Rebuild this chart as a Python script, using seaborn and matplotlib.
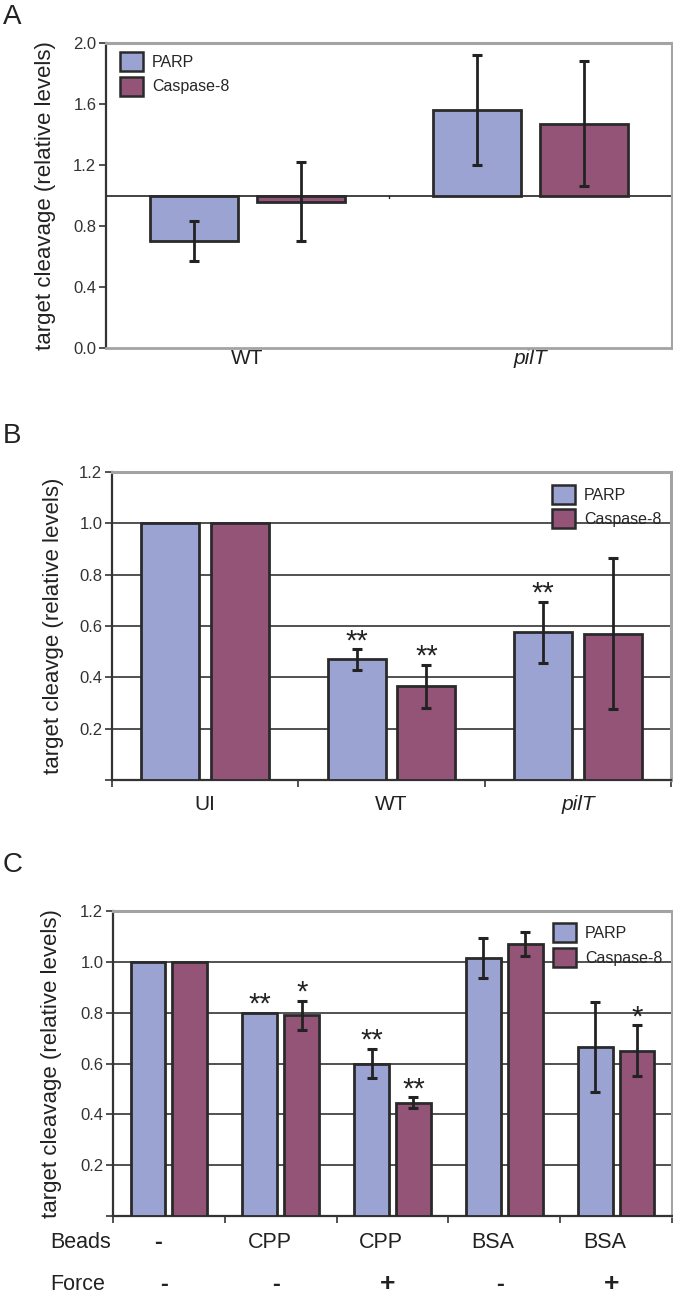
import numpy as np
import pandas as pd
import seaborn as sns
import matplotlib
matplotlib.use("Agg")
import matplotlib.pyplot as plt
from matplotlib.patches import Patch
from matplotlib.container import BarContainer
from matplotlib.transforms import blended_transform_factory

# panel A
a_groups = ["WT", "pilT"]
a_parp = [0.70, 1.56]
a_parp_err = [0.13, 0.36]
a_casp = [0.96, 1.47]
a_casp_err = [0.26, 0.41]

# panel B
b_groups = ["UI", "WT", "pilT"]
b_parp = [1.0, 0.47, 0.575]
b_parp_err = [0.0, 0.04, 0.12]
b_casp = [1.0, 0.365, 0.57]
b_casp_err = [0.0, 0.085, 0.295]
b_parp_sig = ["", "**", "**"]
b_casp_sig = ["", "**", ""]

# panel C
c_beads = ["-", "CPP", "CPP", "BSA", "BSA"]
c_force = ["-", "-", "+", "-", "+"]
c_parp = [1.0, 0.80, 0.60, 1.015, 0.665]
c_parp_err = [0.0, 0.0, 0.058, 0.077, 0.178]
c_casp = [1.0, 0.79, 0.445, 1.07, 0.65]
c_casp_err = [0.0, 0.057, 0.022, 0.047, 0.10]
c_parp_sig = ["", "**", "**", "", ""]
c_casp_sig = ["", "*", "**", "", "*"]

series = ["PARP", "Caspase-8"]
colors = {"PARP": "#9ba3d2", "Caspase-8": "#935477"}
EDGE = "#2a2a2a"
FRAME = "#a3a3a3"
INK = "#222222"

sns.set_theme(style="white")
plt.rcParams["font.family"] = ["Liberation Sans", "DejaVu Sans"]

fig = plt.figure(figsize=(6.73, 12.98), dpi=100)
W, H = 673, 1298


def px_axes(left, top, right, bottom):
    return fig.add_axes([left / W, 1 - bottom / H, (right - left) / W, (bottom - top) / H])


def draw_bars(ax, groups, parp, parp_err, casp, casp_err, parp_sig=None, casp_sig=None):
    df = pd.DataFrame({
        "group": list(groups) * 2,
        "series": ["PARP"] * len(groups) + ["Caspase-8"] * len(groups),
        "value": list(parp) + list(casp),
    })
    sns.barplot(data=df, x="group", y="value", hue="series", order=list(groups),
                hue_order=series, palette=colors, saturation=1, width=0.75, gap=0.17,
                edgecolor=EDGE, linewidth=2.0, errorbar=None, legend=False, ax=ax, zorder=3)
    errs = [parp_err, casp_err]
    vals = [parp, casp]
    sigs = [parp_sig, casp_sig]
    conts = [c for c in ax.containers if isinstance(c, BarContainer)]
    for k, cont in enumerate(conts):
        for i, bar in enumerate(cont):
            xc = bar.get_x() + bar.get_width() / 2
            e = errs[k][i]
            if e > 0:
                ax.errorbar(xc, vals[k][i], yerr=e, fmt="none", ecolor=INK,
                            elinewidth=2.0, capsize=3.5, capthick=2.2, zorder=4)
            if sigs[k] is not None and sigs[k][i]:
                ax.text(xc, vals[k][i] + e, sigs[k][i], ha="center", va="baseline",
                        fontsize=21, color=INK, zorder=5)


def style_frame(ax, bottom_color):
    for s in ["top", "right"]:
        ax.spines[s].set_color(FRAME)
        ax.spines[s].set_linewidth(2.2)
    ax.spines["left"].set_color("#333333")
    ax.spines["left"].set_linewidth(1.6)
    ax.spines["bottom"].set_color(bottom_color)
    ax.spines["bottom"].set_linewidth(2.0 if bottom_color == FRAME else 1.6)
    ax.tick_params(axis="y", which="major", left=True, length=5, width=1.2, color="#333333",
                   labelsize=12, labelcolor="#333333", pad=2)


def add_legend(ax, anchor):
    handles = [Patch(facecolor=colors[s], edgecolor=EDGE, linewidth=1.8, label=s) for s in series]
    ax.legend(handles=handles, loc="upper left", bbox_to_anchor=anchor, frameon=False,
              fontsize=11.5, handlelength=1.45, handleheight=1.45, handletextpad=0.55,
              labelspacing=0.35, borderaxespad=0, borderpad=0)


def set_group_ticks(ax, n, pad, italic_last=False):
    ax.set_xlim(-0.5, n - 0.5)
    ax.set_xticks(np.arange(n))
    ax.tick_params(axis="x", which="major", bottom=True, length=0, labelsize=15,
                   labelcolor=INK, pad=pad)
    if italic_last:
        ax.get_xticklabels()[-1].set_style("italic")
    ax.set_xlabel("")


# ---------- A ----------
axA = px_axes(106, 43, 672, 348)
draw_bars(axA, a_groups, a_parp, a_parp_err, a_casp, a_casp_err)
for bar in axA.patches:
    h = bar.get_height()
    bar.set_y(1.0)
    bar.set_height(h - 1.0)
axA.axhline(1.0, color=INK, lw=1.2, zorder=2)
axA.plot([0.5, 0.5], [1.0, 0.985], color=INK, lw=1, zorder=2)
axA.set_ylim(0, 2.0)
axA.set_yticks(np.arange(0, 2.01, 0.4))
axA.set_yticklabels([f"{v:.1f}" for v in np.arange(0, 2.01, 0.4)])
set_group_ticks(axA, len(a_groups), pad=1, italic_last=True)
style_frame(axA, FRAME)
axA.set_ylabel("target cleavage (relative levels)", fontsize=16, color=INK)
axA.yaxis.set_label_coords(-0.088, 0.5)
add_legend(axA, (0.025, 0.97))

# ---------- B ----------
axB = px_axes(112, 472, 671, 780)
draw_bars(axB, b_groups, b_parp, b_parp_err, b_casp, b_casp_err, b_parp_sig, b_casp_sig)
axB.set_ylim(0, 1.2)
ticks = np.round(np.arange(0, 1.21, 0.2), 1)
axB.set_yticks(ticks)
axB.set_yticklabels([""] + [f"{v:.1f}" for v in ticks[1:]])
for t in ticks[1:-1]:
    axB.axhline(t, color=INK, lw=1.1, zorder=1)
set_group_ticks(axB, len(b_groups), pad=11, italic_last=True)
axB.set_xticks(np.arange(-0.5, len(b_groups)), minor=True)
axB.tick_params(axis="x", which="minor", bottom=True, length=5, width=1.2, color="#333333")
style_frame(axB, "#333333")
axB.set_ylabel("target cleavge (relative levels)", fontsize=16, color=INK)
axB.yaxis.set_label_coords(-0.086, 0.5)
add_legend(axB, (0.787, 0.958))

# ---------- C ----------
axC = px_axes(113, 911, 672, 1216)
c_groups = [f"{b}/{f}" for b, f in zip(c_beads, c_force)]
draw_bars(axC, c_groups, c_parp, c_parp_err, c_casp, c_casp_err, c_parp_sig, c_casp_sig)
axC.set_ylim(0, 1.2)
axC.set_yticks(ticks)
axC.set_yticklabels([""] + [f"{v:.1f}" for v in ticks[1:]])
for t in ticks[1:-1]:
    axC.axhline(t, color=INK, lw=1.1, zorder=1)
axC.set_xlim(-0.5, len(c_groups) - 0.5)
axC.set_xticks(np.arange(len(c_groups)))
axC.set_xticklabels([])
axC.tick_params(axis="x", which="major", bottom=False)
axC.set_xticks(np.arange(-0.5, len(c_groups)), minor=True)
axC.tick_params(axis="x", which="minor", bottom=True, length=5, width=1.2, color="#333333")
axC.set_xlabel("")
style_frame(axC, "#333333")
axC.set_ylabel("target cleavage (relative levels)", fontsize=16, color=INK)
axC.yaxis.set_label_coords(-0.091, 0.5)
add_legend(axC, (0.787, 0.96))

trans = blended_transform_factory(axC.transData, fig.transFigure)
for i, (b, f) in enumerate(zip(c_beads, c_force)):
    axC.text(i - 0.1, 1 - 1242 / H, b, transform=trans, ha="center", va="center",
             fontsize=17 if b == "-" else 15.5, fontweight="bold" if b == "-" else "normal",
             color=INK)
    axC.text(i - 0.04, 1 - 1284 / H, f, transform=trans, ha="center", va="center",
             fontsize=17 if f == "-" else 19, fontweight="bold", color=INK)
fig.text(50 / W, 1 - 1242 / H, "Beads", ha="left", va="center", fontsize=15.5, color=INK)
fig.text(50 / W, 1 - 1284 / H, "Force", ha="left", va="center", fontsize=15.5, color=INK)

# panel letters
for letter, y in [("A", 17), ("B", 436), ("C", 865)]:
    fig.text(3 / W, 1 - y / H, letter, ha="left", va="center", fontsize=20, color=INK)

fig.savefig("out.png", dpi=100)
